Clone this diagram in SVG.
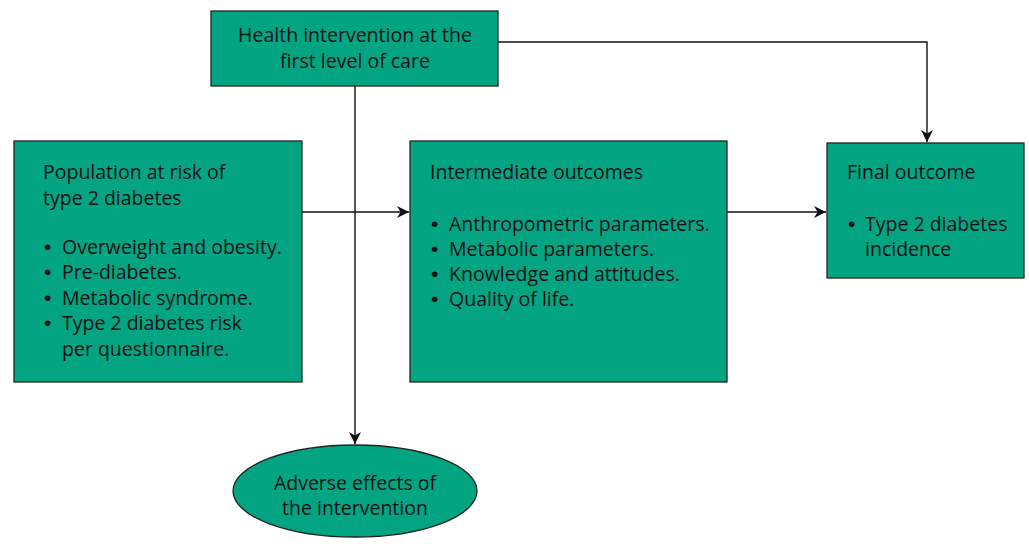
<svg xmlns="http://www.w3.org/2000/svg" width="1029" height="544" viewBox="0 0 1029 544">
<style>
.box{fill:#02a482;stroke:#222;stroke-width:1.3}
.t{font-family:"Open Sans","Liberation Sans",sans-serif;font-size:19.5px;fill:#111}
.b{font-family:"Liberation Sans",sans-serif;font-size:21px;fill:#111}
.c{text-anchor:middle}
.ln{fill:none;stroke:#111;stroke-width:1.4}
</style>
<defs>
<marker id="ah" viewBox="0 0 10 10" refX="10" refY="5" markerWidth="12" markerHeight="12" markerUnits="userSpaceOnUse" orient="auto">
<path d="M0,0 L10,5 L0,10 L3,5 z" fill="#111"/>
</marker>
</defs>
<rect width="1029" height="544" fill="#fff"/>
<g id="connectors">
<path class="ln" d="M355,86 V444" marker-end="url(#ah)"/>
<path class="ln" d="M302,212 H409" marker-end="url(#ah)"/>
<path class="ln" d="M727,212 H826" marker-end="url(#ah)"/>
<path class="ln" d="M498,42 H927 V142" marker-end="url(#ah)"/>
</g>
<g id="intervention">
<rect class="box" x="211" y="11" width="287" height="75"/>
<text class="t c" x="355" y="42">Health intervention at the</text>
<text class="t c" x="355" y="68">first level of care</text>
</g>
<g id="population">
<rect class="box" x="14" y="141" width="288" height="241"/>
<text class="t" x="43" y="179">Population at risk of</text>
<text class="t" x="43" y="205">type 2 diabetes</text>
<text class="b" x="44" y="254">•</text><text class="t" x="62" y="254">Overweight and obesity.</text>
<text class="b" x="44" y="279">•</text><text class="t" x="62" y="279">Pre-diabetes.</text>
<text class="b" x="44" y="305">•</text><text class="t" x="62" y="305">Metabolic syndrome.</text>
<text class="b" x="44" y="330">•</text><text class="t" x="62" y="330">Type 2 diabetes risk</text>
<text class="t" x="62" y="356">per questionnaire.</text>
</g>
<g id="intermediate">
<rect class="box" x="410" y="141" width="317" height="241"/>
<text class="t" x="430" y="179">Intermediate outcomes</text>
<text class="b" x="431" y="231">•</text><text class="t" x="449" y="231">Anthropometric parameters.</text>
<text class="b" x="431" y="256">•</text><text class="t" x="449" y="256">Metabolic parameters.</text>
<text class="b" x="431" y="281">•</text><text class="t" x="449" y="281">Knowledge and attitudes.</text>
<text class="b" x="431" y="306">•</text><text class="t" x="449" y="306">Quality of life.</text>
</g>
<g id="final">
<rect class="box" x="827" y="143" width="197" height="135"/>
<text class="t" x="847" y="179">Final outcome</text>
<text class="b" x="848" y="231">•</text><text class="t" x="865" y="231">Type 2 diabetes</text>
<text class="t" x="865" y="256">incidence</text>
</g>
<g id="adverse">
<ellipse class="box" cx="355" cy="491" rx="122" ry="46"/>
<text class="t c" x="355" y="490">Adverse effects of</text>
<text class="t c" x="355" y="515">the intervention</text>
</g>
</svg>
